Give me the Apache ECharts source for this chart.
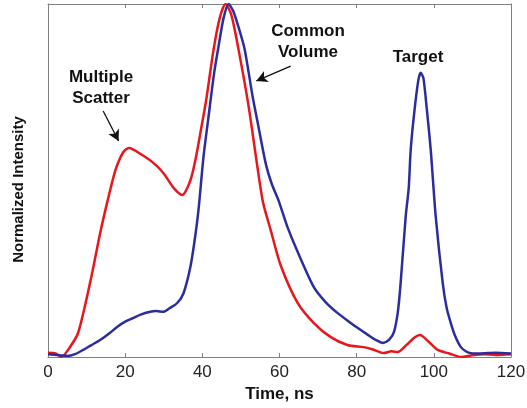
<!DOCTYPE html>
<html>
<head>
<meta charset="utf-8">
<script src="https://cdn.jsdelivr.net/npm/echarts@6/dist/echarts.min.js"></script>
<style>
  html, body { margin: 0; padding: 0; background: #fff; }
  #main { width: 527px; height: 408px; }
</style>
</head>
<body>
<div id="main"></div>
<script>
var xTicks = [0, 20, 40, 60, 80, 100, 120];

// multiple scatter (red)
var redTime = [0, 2, 3.5, 5.5, 7.8, 10.9, 13.5, 15.5, 17.5, 19.5, 21, 24, 27.3, 30, 32.5, 34.8, 36.9, 38.2, 39.5,
  41, 42.9, 44.5, 46, 47.5, 49.4, 52, 55.6, 57.7, 60.3, 64.7, 68.9, 73.2, 77.6, 81.8, 84, 87, 89, 90.6, 93,
  95, 96.4, 98.5, 101, 104, 107, 110, 113, 116, 120];
var redValue = [0.012, 0.01, 0.0, 0.025, 0.068, 0.21, 0.35, 0.445, 0.53, 0.58, 0.592, 0.575, 0.55, 0.52, 0.48, 0.459, 0.5, 0.558, 0.635,
  0.728, 0.87, 0.96, 1.0, 0.97, 0.87, 0.71, 0.445, 0.36, 0.26, 0.153, 0.096, 0.057, 0.034, 0.028, 0.022, 0.011, 0.016, 0.014, 0.035,
  0.055, 0.062, 0.045, 0.02, 0.01, 0.0, 0.005, 0.008, 0.006, 0.008];

// common volume + target (blue)
var blueTime = [0, 3, 5, 7, 9.1, 11, 13.5, 16, 17.9, 20, 22, 24, 26.5, 28, 29.9, 31.5, 33.5, 35.1, 36.9, 38, 39,
  40.3, 41.6, 43, 44.2, 45.5, 46.8, 48, 49.5, 51, 53, 54.5, 56.5, 58, 59.7, 62, 64.5, 68.9, 72, 75, 78, 80.3, 83, 85, 86.8,
  88.5, 89.7, 90.7, 91.4, 92.7, 93.5, 94, 95, 96, 96.6, 97.3, 98.2, 99.2, 100.5, 102.3, 103.3, 104.4, 105.5,
  107, 108.5, 109.6, 112, 116, 120];
var blueValue = [0.008, 0.005, 0.003, 0.008, 0.02, 0.032, 0.048, 0.068, 0.085, 0.1, 0.11, 0.12, 0.128, 0.13, 0.128, 0.138, 0.153, 0.18, 0.255, 0.33, 0.416,
  0.567, 0.68, 0.8, 0.88, 0.96, 1.0, 0.98, 0.93, 0.87, 0.74, 0.655, 0.545, 0.49, 0.445, 0.37, 0.303, 0.198, 0.155, 0.125, 0.1, 0.082, 0.062, 0.048, 0.04,
  0.05, 0.072, 0.13, 0.21, 0.397, 0.48, 0.586, 0.7, 0.785, 0.805, 0.79, 0.7, 0.586, 0.397, 0.21, 0.14, 0.096, 0.06,
  0.028, 0.015, 0.011, 0.01, 0.012, 0.01];

function pairs(t, v) {
  var out = [];
  for (var i = 0; i < t.length; i++) out.push([t[i], v[i]]);
  return out;
}

var frame = '#808080';
var font = '"Liberation Sans", Arial, sans-serif';

var myChart = echarts.init(document.getElementById('main'));

myChart.setOption({
  animation: false,
  grid: { left: 48, right: 16, top: 4, bottom: 51, outerBoundsMode: 'none', containLabel: false },
  xAxis: [{
    type: 'value', min: 0, max: 120, interval: 20,
    name: 'Time, ns', nameLocation: 'middle', nameGap: 28,
    nameTextStyle: { fontFamily: font, fontSize: 17, fontWeight: 'bold', color: '#111' },
    axisLine: { onZero: false, lineStyle: { color: frame, width: 1 } },
    axisTick: { inside: true, length: 4, lineStyle: { color: frame } },
    axisLabel: { fontFamily: font, fontSize: 17, color: '#222', margin: 7,
      formatter: function (v) { return xTicks.indexOf(v) >= 0 ? v : ''; } },
    splitLine: { show: false }
  }, {
    type: 'value', min: 0, max: 120, interval: 20, position: 'top',
    axisLine: { onZero: false, lineStyle: { color: frame, width: 1 } },
    axisTick: { inside: true, length: 4, lineStyle: { color: frame } },
    axisLabel: { show: false },
    splitLine: { show: false }
  }],
  yAxis: [{
    type: 'value', min: 0, max: 1,
    name: 'Normalized Intensity', nameLocation: 'middle', nameGap: 22,
    nameTextStyle: { fontFamily: font, fontSize: 15, fontWeight: 'bold', color: '#111', padding: [0, 18, 0, 0] },
    axisLine: { show: true, onZero: false, lineStyle: { color: frame, width: 1 } },
    axisTick: { show: false },
    axisLabel: { show: false },
    splitLine: { show: false }
  }, {
    type: 'value', min: 0, max: 1, position: 'right',
    axisLine: { show: true, onZero: false, lineStyle: { color: frame, width: 1 } },
    axisTick: { show: false },
    axisLabel: { show: false },
    splitLine: { show: false }
  }],
  series: [{
    name: 'Multiple Scatter',
    type: 'line',
    data: pairs(redTime, redValue),
    smooth: 0.25,
    showSymbol: false,
    lineStyle: { color: '#e8161c', width: 2.5 },
    markLine: {
      silent: true,
      symbol: ['none', 'arrow'],
      symbolSize: [9, 11],
      label: { show: false },
      lineStyle: { color: '#111', width: 1.3, type: 'solid' },
      data: [
        [{ coord: [14.3, 0.697] }, { coord: [18.3, 0.612] }],
        [{ coord: [62.9, 0.824] }, { coord: [54, 0.782] }]
      ]
    }
  }, {
    name: 'Common Volume',
    type: 'line',
    data: pairs(blueTime, blueValue),
    smooth: 0.25,
    showSymbol: false,
    lineStyle: { color: '#2b2d9e', width: 2.5 }
  }],
  graphic: [{
    type: 'text', style: {
      text: 'Multiple\nScatter', font: 'bold 17px ' + font, fill: '#111',
      textAlign: 'center', textVerticalAlign: 'middle', lineHeight: 21
    }, x: 101, y: 88
  }, {
    type: 'text', style: {
      text: 'Common\nVolume', font: 'bold 17px ' + font, fill: '#111',
      textAlign: 'center', textVerticalAlign: 'middle', lineHeight: 21
    }, x: 308, y: 42
  }, {
    type: 'text', style: {
      text: 'Target', font: 'bold 17px ' + font, fill: '#111',
      textAlign: 'center', textVerticalAlign: 'middle'
    }, x: 418, y: 57
  }]
});
</script>
</body>
</html>
